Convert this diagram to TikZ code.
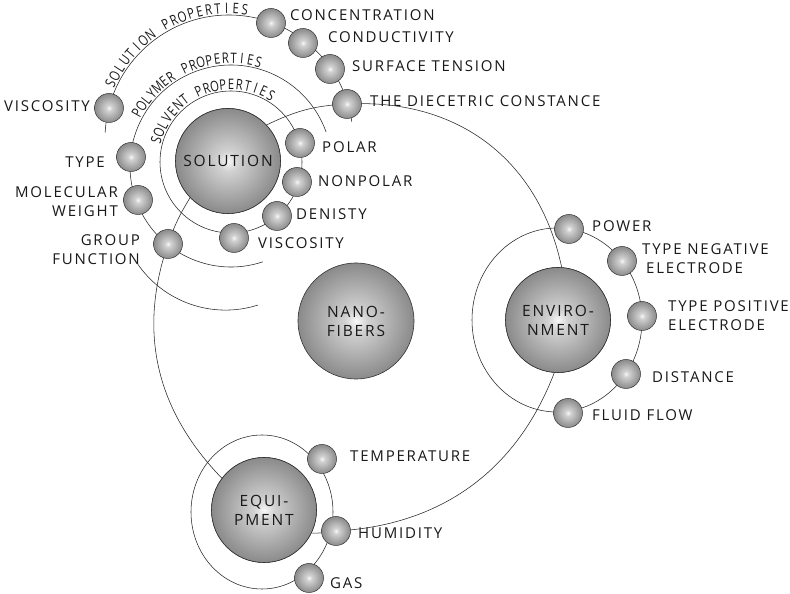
\documentclass[tikz,border=0pt]{standalone}
\usepackage{fontspec}
\setmainfont{Open Sans}[LetterSpace=12]
\newfontfamily\arcfam{Open Sans}[FakeStretch=0.78]
\definecolor{sphA}{gray}{0.97}
\definecolor{sphB}{gray}{0.82}
\definecolor{sphC}{gray}{0.50}
\definecolor{sphD}{gray}{0.30}
\definecolor{ink}{gray}{0.10}
\pgfdeclareradialshading{sph}{\pgfpoint{0bp}{0bp}}{color(0bp)=(sphA);color(5bp)=(sphB);color(28bp)=(sphC);color(50bp)=(sphD);color(100bp)=(sphD)}
\newcommand{\labfont}{\fontsize{15}{19}\selectfont}
\newcommand{\sphfont}{\fontsize{15.5}{19}\selectfont}
\newcommand{\arcfont}{\arcfam\fontsize{14.5}{14.5}\selectfont}
% #1 name prefix, #2 centre, #3 radius, #4 start angle, #5 end angle, #6 number of slots, #7 characters
\newcommand{\arctxt}[7]{%
  \foreach \ch [count=\i] in {#7}{%
    \pgfmathsetmacro{\ang}{#4+(\i-0.5)*(#5-#4)/#6}%
    \pgfmathsetmacro{\rot}{\ang-90}%
    \path (#2) ++(\ang:#3) node[arcch, rotate=\rot] (#1\i) {\ch};
  }}
\begin{document}
\begin{tikzpicture}[x=1pt,y=1pt,
  bigsph/.style={circle, shading=sph, draw=black!80, line width=0.6pt, minimum size=105pt, inner sep=0pt, font=\sphfont, text=ink, align=center},
  smsph/.style={circle, shading=sph, draw=black!80, line width=0.5pt, minimum size=29pt, inner sep=0pt},
  lab/.style={font=\labfont, inner sep=0pt, text=ink},
  arcch/.style={font=\arcfont, inner sep=0pt, anchor=base, text=ink},
  thin/.style={draw=black!85, line width=0.55pt}]
\fill[white] (0,0) rectangle (790,594);
\useasboundingbox (0,0) rectangle (790,594);

% ---- centre coordinates ----
\path
  (228,433) coordinate (solC)
  (356,273) coordinate (nanoC)
  (558,274) coordinate (envC)
  (264,84)  coordinate (equC)
  (229,455) coordinate (spC)
  (231,428) coordinate (ppC)
  (231,432) coordinate (vpC);

% ---- rings and arcs ----
\draw[thin] (spC) ++(177:124) arc[start angle=177, end angle=8, radius=124];
\draw[thin] (ppC) ++(19.7:101) arc[start angle=19.7, end angle=288.4, radius=101];
\draw[thin] (vpC) circle[radius=71];
\draw[thin] (225.5,390.6) ++(214:106.7) arc[start angle=214, end angle=287.7, radius=106.7];
\draw[thin] (557,274) ellipse[x radius=85, y radius=92];
\draw[thin] (262,82) ellipse[x radius=71, y radius=77];

% arc texts
\arctxt{sp}{spC}{125.5}{157}{81}{19}{S,O,L,U,T,I,O,N,{},P,R,O,P,E,R,T,I,E,S}
\arctxt{pp}{ppC}{102.5}{153}{73}{18}{P,O,L,Y,M,E,R,{},P,R,O,P,E,R,T,I,E,S}
\arctxt{vp}{vpC}{72.5}{167}{56}{18}{S,O,L,V,E,N,T,{},P,R,O,P,E,R,T,I,E,S}

% ---- big spheres ----
\node[bigsph] (sol) at (solC) {SOLUTION};
\node[bigsph, minimum size=116pt] (nano) at (nanoC) {NANO-\\FIBERS};
\node[bigsph] (env) at (envC) {ENVIRO-\\NMENT};
\node[bigsph] (equ) at (equC) {EQUI-\\PMENT};

% ---- small ball positions ----
\path
  (271,571) coordinate (concC)
  (303,551) coordinate (condC)
  (330,525) coordinate (surfC)
  (347,490) coordinate (dielC)
  (109,486) coordinate (viscAC)
  (131,437) coordinate (typeC)
  (138,394) coordinate (molwC)
  (168,350) coordinate (groupC)
  (300,451) coordinate (polarC)
  (297,412) coordinate (nonpC)
  (277,378) coordinate (densC)
  (234,356) coordinate (viscBC)
  (569,365) coordinate (powC)
  (622,333) coordinate (negC)
  (642,278) coordinate (posC)
  (626,220) coordinate (distC)
  (568,181) coordinate (fluidC)
  (322,135) coordinate (tempC)
  (336,63)  coordinate (humC)
  (309,16)  coordinate (gasC);

% ---- connectors (behind the balls) ----
\draw[thin] (sol.43.5) to[out=26, in=183] (dielC) to[out=3, in=102, looseness=1.05] (env.86);
\draw[thin] (sol.224) to[out=239, in=71] (groupC) to[out=251, in=134] (equ.143);
\draw[thin] (equ.-26) to[out=-3, in=183] (humC) to[out=3, in=249] (env.266);

% ---- small balls ----
\foreach \n in {conc,cond,surf,diel,viscA,type,molw,group,polar,nonp,dens,viscB,pow,neg,pos,dist,fluid,temp,hum,gas}
  \node[smsph] (\n) at (\n C) {};

% big spheres again over the connector ends
\node[bigsph] at (solC) {SOLUTION};
\node[bigsph] at (envC) {ENVIRO-\\NMENT};
\node[bigsph] at (equC) {EQUI-\\PMENT};

% ---- labels ----
\node[lab, anchor=west] (lconc) at (290,579) {CONCENTRATION};
\node[lab, anchor=west] (lcond) at (328,557) {CONDUCTIVITY};
\node[lab, anchor=west] (lsurf) at (352,528) {SURFACE TENSION};
\node[lab, anchor=west] (ldiel) at (370,493) {THE DIECETRIC CONSTANCE};
\node[lab, anchor=east] (lviscA) at (90,488) {VISCOSITY};
\node[lab, anchor=east] (ltype) at (105,432) {TYPE};
\node[lab, anchor=east, align=right] (lmolw) at (118,392) {MOLECULAR\\WEIGHT};
\node[lab, anchor=east, align=right] (lgroup) at (140,344) {GROUP\\FUNCTION};
\node[lab, anchor=west] (lpolar) at (322,447) {POLAR};
\node[lab, anchor=west] (lnonp) at (318,413) {NONPOLAR};
\node[lab, anchor=west] (ldens) at (296,380) {DENISTY};
\node[lab, anchor=west] (lviscB) at (258,351) {VISCOSITY};
\node[lab, anchor=west] (lpow) at (592,368) {POWER};
\node[lab, anchor=west, align=left] (lneg) at (642,335) {TYPE NEGATIVE\\\hspace{4pt}ELECTRODE};
\node[lab, anchor=west, align=left] (lpos) at (668,278) {TYPE POSITIVE\\ELECTRODE};
\node[lab, anchor=west] (ldist) at (652,217) {DISTANCE};
\node[lab, anchor=west] (lfluid) at (592,179) {FLUID FLOW};
\node[lab, anchor=west] (ltemp) at (350,138) {TEMPERATURE};
\node[lab, anchor=west] (lhum) at (358,61) {HUMIDITY};
\node[lab, anchor=west] (lgas) at (330,11) {GAS};
\end{tikzpicture}
\end{document}
